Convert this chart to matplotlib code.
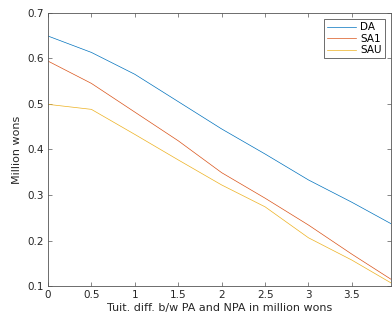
import matplotlib
matplotlib.use("Agg")
import matplotlib.pyplot as plt

x = [0, 0.5, 1.0, 1.5, 2.0, 2.5, 3.0, 3.5, 3.95]
da = [0.649, 0.613, 0.565, 0.505, 0.445, 0.390, 0.333, 0.284, 0.237]
sa1 = [0.594, 0.545, 0.482, 0.419, 0.349, 0.293, 0.234, 0.170, 0.115]
sau = [0.499, 0.488, 0.433, 0.377, 0.322, 0.274, 0.206, 0.157, 0.107]
labels = ["DA", "SA1", "SAU"]
xticks = [0, 0.5, 1, 1.5, 2, 2.5, 3, 3.5]
yticks = [0.1, 0.2, 0.3, 0.4, 0.5, 0.6, 0.7]

plt.rcParams['font.family'] = ['DejaVu Sans']
fig = plt.figure(figsize=(3.92, 3.2), dpi=100)
ax = fig.add_axes([0.1224, 0.106, 0.875, 0.854])
colors = ["#0072bd", "#d95319", "#edb120"]
for ys, lab, c in zip([da, sa1, sau], labels, colors):
    ax.plot(x, ys, color=c, lw=0.5, label=lab)
ax.set_xlim(0, 3.95)
ax.set_ylim(0.1, 0.7)
ax.set_xticks(xticks)
ax.set_xticklabels([f"{t:g}" for t in xticks])
ax.set_yticks(yticks)
ax.set_yticklabels([f"{t:g}" for t in yticks])
ax.tick_params(direction='in', length=3, width=0.5, labelsize=7.5, colors='#333333',
               top=True, right=True, pad=3)
ax.tick_params(colors='#555555', labelcolor='#262626')
for s in ax.spines.values():
    s.set_color('#555555')
    s.set_linewidth(0.6)
ax.set_xlabel("Tuit. diff. b/w PA and NPA in million wons", fontsize=8, color='#262626', labelpad=2)
ax.set_ylabel("Million wons", fontsize=8, color='#262626', labelpad=4)
leg = ax.legend(loc='upper right', fontsize=7.5, fancybox=False, framealpha=1,
                edgecolor='#555555', handlelength=2.8, borderpad=0.3, labelspacing=0.15,
                handletextpad=0.4, borderaxespad=0.6)
leg.get_frame().set_linewidth(0.6)
fig.savefig("out.png", dpi=100)
